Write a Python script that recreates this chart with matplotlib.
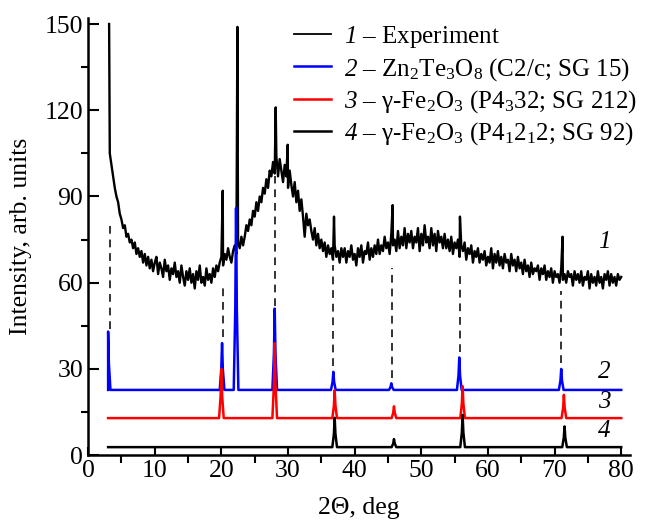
import matplotlib
matplotlib.use("Agg")
import matplotlib.pyplot as plt
import numpy as np

plt.rcParams['font.family'] = ['Liberation Serif', 'DejaVu Serif']
plt.rcParams['mathtext.fontset'] = 'custom'
plt.rcParams['mathtext.rm'] = 'Liberation Serif'
plt.rcParams['mathtext.it'] = 'Liberation Serif:italic'
plt.rcParams['mathtext.sf'] = 'Liberation Serif:italic'  # used for the italic curve numbers

# experiment (curve 1): background read every 0.25 deg from 3.5 to 80
exp_x = np.arange(3.5, 80.01, 0.25)
exp_y = [101, 97, 93, 90, 88, 84, 82, 79, 80, 76, 77, 74, 75, 72, 74, 70, 72, 69, 71, 67,
         70, 66, 69, 65, 68, 64, 67, 69, 63, 67, 65, 62, 68, 64, 66, 61, 65, 63, 67, 62,
         64, 60, 66, 62, 59, 64, 61, 65, 60, 63, 58, 64, 61, 66, 60, 62, 59, 65, 61, 63,
         60, 65, 62, 66, 64, 67, 69, 66, 70, 68, 72, 69, 67, 71, 73, 70, 74, 72, 76, 73,
         76, 80, 78, 82, 80, 85, 83, 88, 85, 90, 88, 93, 91, 96, 93, 99, 97, 102, 98, 104,
         97, 103, 99, 95, 101, 97, 93, 99, 94, 90, 95, 88, 92, 85, 89, 83, 76, 84, 80, 82,
         78, 75, 79, 73, 77, 72, 75, 71, 74, 69, 73, 70, 72, 68, 73, 69, 71, 67, 72, 69,
         72, 67, 71, 69, 73, 68, 70, 66, 72, 69, 73, 67, 71, 70, 74, 68, 72, 69, 73, 70,
         75, 70, 73, 71, 76, 72, 74, 70, 77, 73, 75, 71, 78, 72, 76, 73, 79, 72, 77, 74,
         78, 72, 76, 74, 79, 71, 77, 73, 80, 74, 76, 72, 79, 73, 77, 71, 78, 74, 76, 72,
         77, 72, 75, 71, 76, 70, 74, 72, 75, 69, 73, 71, 74, 68, 72, 70, 73, 67, 71, 69,
         72, 67, 70, 68, 71, 66, 69, 67, 72, 65, 70, 67, 71, 66, 69, 65, 70, 67, 68, 64,
         70, 66, 68, 64, 69, 65, 67, 63, 68, 64, 66, 62, 67, 63, 65, 64, 66, 61, 65, 63,
         66, 61, 64, 62, 65, 60, 64, 62, 63, 60, 65, 61, 63, 60, 64, 62, 63, 59, 64, 61,
         63, 60, 64, 59, 62, 61, 64, 58, 63, 60, 62, 59, 64, 60, 62, 58, 63, 61, 64, 59,
         63, 60, 62, 59, 63, 61, 62]
# sharp reflections in the experiment
spike_x = [3.15, 3.25, 20.2, 22.4, 28.15, 29.95, 36.9, 45.7, 55.8, 71.2]
spike_y = [150, 105, 92, 149, 121, 108, 83, 87, 83, 76]

# reference patterns: peak positions and peak tops
zn_pos = [3.0, 20.1, 22.2, 28.0, 36.8, 45.5, 55.7, 71.0]
zn_top = [43, 39, 86, 51, 29, 25, 34, 30]
zn_base = 22.7
fe212_pos = [20.0, 28.0, 37.0, 45.9, 56.2, 71.4]
fe212_top = [30, 39, 22.6, 17, 24, 21]
fe212_base = 12.9
fe92_pos = [37.0, 45.9, 56.2, 71.5]
fe92_top = [13, 5.6, 14, 10]
fe92_base = 2.8

# dashed guide lines
dash_x = [3.3, 20.2, 28.1, 36.8, 45.6, 55.8, 71.0]
dash_lo = [44, 41, 52, 31, 27, 36, 32]
dash_hi = [80, 58, 97, 66, 65, 64, 57]


def stick_pattern(pos, top, base, x0=3.0, x1=80.0, hw=0.35):
    # narrow peak: base, shoulder, top, shoulder, base
    xs, ys = [x0], [base]
    for p, t in zip(pos, top):
        h = t - base
        xs += [p - hw, p - hw / 3, p, p + hw / 3, p + hw]
        ys += [base, base + 0.45 * h, t, base + 0.45 * h, base]
    xs.append(x1)
    ys.append(base)
    xs, ys = np.array(xs), np.array(ys)
    keep = (xs >= x0) & (xs <= x1)
    xs, ys = xs[keep], ys[keep]
    order = np.argsort(xs, kind='stable')
    return xs[order], ys[order]


fig = plt.figure(figsize=(6.48, 5.22), dpi=100)
ax = fig.add_axes([0.136, 0.128, 0.836, 0.837])

ex = np.concatenate([exp_x, spike_x])
ey = np.concatenate([exp_y, spike_y])
o = np.argsort(ex)
ax.plot(ex[o], ey[o], color='black', lw=1.7, label=r'$\mathsf{1}$ – Experiment')

bx, by = stick_pattern(zn_pos, zn_top, zn_base)
ax.plot(bx, by, color='#0000ff', lw=1.8,
        label=r'$\mathsf{2}$ – Zn$_2$Te$_3$O$_8$ (C2/c; SG 15)')
rx, ry = stick_pattern(fe212_pos, fe212_top, fe212_base)
ax.plot(rx, ry, color='#ff0000', lw=1.8,
        label=r'$\mathsf{3}$ – γ-Fe$_2$O$_3$ (P4$_3$32; SG 212)')
kx, ky = stick_pattern(fe92_pos, fe92_top, fe92_base)
ax.plot(kx, ky, color='black', lw=1.8,
        label=r'$\mathsf{4}$ – γ-Fe$_2$O$_3$ (P4$_1$2$_1$2; SG 92)')

ax.vlines(dash_x, dash_lo, dash_hi, colors='#333333', linestyles=(0, (4, 3)), lw=1.4)

for txt, yy in zip(['1', '2', '3', '4'], [74, 29, 18.5, 8.5]):
    ax.text(76.5, yy, txt, fontsize=18, style='italic', ha='left', va='center')

ax.set_xlim(0, 81.3)
ax.set_ylim(0, 152)
ax.set_xticks(np.arange(0, 81, 10))
ax.set_xticks(np.arange(5, 81, 10), minor=True)
ax.set_yticks(np.arange(0, 151, 30))
ax.set_yticks(np.arange(15, 151, 30), minor=True)
ax.tick_params(direction='in', labelsize=18.5, width=1.5)
ax.tick_params(axis='x', which='both', length=6)
ax.tick_params(axis='y', which='major', length=8)
ax.tick_params(axis='y', which='minor', length=5, width=1.5)
ax.tick_params(axis='x', which='minor', width=1.5)
for s in ['top', 'right']:
    ax.spines[s].set_visible(False)
for s in ['left', 'bottom']:
    ax.spines[s].set_linewidth(1.8)

ax.set_xlabel('2Θ, deg', fontsize=18.5, labelpad=11)
ax.set_ylabel('Intensity, arb. units', fontsize=18.5, labelpad=9)

leg = ax.legend(loc='upper right', bbox_to_anchor=(1.035, 1.015), frameon=False, fontsize=18,
                handlelength=1.5, handletextpad=0.5, labelspacing=0.22, borderpad=0)
leg.get_lines()[0].set_linewidth(1.3)

fig.savefig('out.png', dpi=100)
